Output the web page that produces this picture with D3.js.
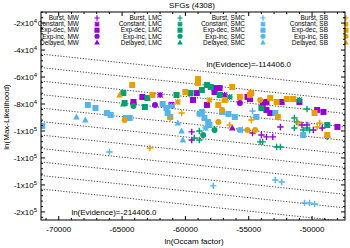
<!DOCTYPE html>
<html><head><meta charset="utf-8">
<script src="https://cdn.jsdelivr.net/npm/d3@7"></script>
<style>body{margin:0;background:#fff}svg{display:block;font-family:"Liberation Sans",Arial,sans-serif}</style>
</head><body><svg id="c" width="350" height="248"></svg>
<script>
// ---- data: [ln(Occam factor), ln(Max-Likelihood)] ----
const galaxies = ["MW", "LMC", "SMC", "SB"];
const sfhs = ["Burst", "Constant", "Exp-dec", "Exp-inc", "Delayed"];
const colors = ["#9400d3", "#009e73", "#56b4e9", "#e69f00"];
const xTicks = [-70000, -65000, -60000, -55000, -50000];
const yTicks = [-20000, -40000, -60000, -80000, -100000, -120000, -140000, -160000];
const yTickLabels = [["-2", "4"], ["-4", "4"], ["-6", "4"], ["-8", "4"], ["-1", "5"], ["-1", "5"], ["-1", "5"], ["-2", "5"]];
const evidenceLevels = [-114406, -124406, -134406, -144406, -154406, -164406, -174406, -184406, -194406, -204406, -214406];

const MW_Burst = [[-64100,-79300],[-59500,-106700],[-59500,-100700],[-54700,-101500],[-54000,-103000],[-53600,-104400],[-53100,-104400],[-52500,-97000],[-50800,-95600],[-50400,-95600],[-49900,-99300],[-49200,-97800]];
const MW_Constant = [[-62000,-73300],[-56900,-73300]];
const MW_ExpDec = [[-57700,-68200],[-57300,-68200],[-57700,-71100],[-59100,-71900],[-63400,-74800],[-64100,-78500],[-55100,-74800],[-54900,-76300],[-53900,-79300],[-53600,-78500],[-52400,-78500],[-51000,-78500],[-53600,-84400],[-53300,-86700],[-49600,-84400],[-49100,-85900],[-48000,-97000],[-59400,-77000],[-58300,-80700],[-53900,-83000],[-61100,-80700]];
const MW_ExpInc = [[-62400,-80700],[-55700,-79300]];
const MW_Delayed = [[-56300,-97800]];

const LMC_Burst = [[-58900,-106700],[-58900,-100000],[-59300,-105200],[-54100,-108100],[-53900,-108100],[-52800,-111900],[-52500,-111900],[-51400,-90400],[-51200,-93300],[-50400,-83700],[-50400,-97800],[-50200,-99300],[-48800,-104400],[-51400,-97800],[-50700,-99300]];
const LMC_Constant = [[-56500,-74800],[-51000,-77000]];
const LMC_ExpDec = [[-64900,-71900],[-58700,-69600],[-58300,-65900],[-58000,-67400],[-57300,-73300],[-59600,-71900],[-60700,-73300],[-63000,-75600],[-64800,-79300],[-63200,-82200],[-54000,-83000],[-48800,-95600]];
const LMC_ExpInc = [[-64100,-81500],[-57700,-99300],[-58600,-103000]];
const LMC_Delayed = [[-64900,-80000]];

const SMC_Burst = [[-66000,-115600],[-57800,-140700],[-52900,-136300],[-52400,-137800],[-50600,-153300],[-50200,-153300],[-49800,-154100],[-55500,-99300],[-54700,-85200]];
const SMC_Constant = [[-61100,-81500],[-58400,-97800]];
const SMC_ExpDec = [[-71300,-96300],[-67700,-80700],[-67100,-83000],[-66200,-86700],[-65900,-88100],[-64700,-90400],[-64400,-90400],[-61800,-80000],[-61500,-83000],[-61400,-86700],[-61200,-89600],[-58700,-85900],[-58500,-90400],[-58200,-93300],[-58100,-95600],[-57100,-85900],[-56600,-87400],[-56100,-89600],[-54400,-89600],[-52900,-86700],[-50700,-103000]];
const SMC_ExpInc = [[-58900,-87400],[-55700,-99300]];
const SMC_Delayed = [[-68600,-89600],[-67900,-91900],[-60600,-94100],[-60300,-100000],[-60200,-106700]];

const SB_Burst = [[-61200,-90400],[-60300,-86700],[-56500,-95600],[-54800,-91900],[-51100,-94100],[-49600,-97000],[-49400,-94100],[-62800,-112600]];
const SB_Constant = [[-60600,-78500],[-58100,-77000]];
const SB_ExpDec = [[-64200,-65900],[-59000,-61500],[-59000,-64400],[-62600,-73300],[-60000,-71100],[-56300,-67400],[-54900,-73300],[-55700,-74800],[-54800,-71900],[-53300,-75600],[-52800,-78500],[-52000,-76300],[-51500,-76300],[-52700,-89600],[-48800,-103000],[-49800,-86700],[-57400,-80700],[-56900,-77000]];
const SB_ExpInc = [[-57100,-84400],[-57400,-93300],[-55100,-99300],[-54500,-99300],[-64800,-91900],[-54100,-77000]];
const SB_Delayed = [[-65200,-73300]];

const seriesData = [
  [MW_Burst, MW_Constant, MW_ExpDec, MW_ExpInc, MW_Delayed],
  [LMC_Burst, LMC_Constant, LMC_ExpDec, LMC_ExpInc, LMC_Delayed],
  [SMC_Burst, SMC_Constant, SMC_ExpDec, SMC_ExpInc, SMC_Delayed],
  [SB_Burst, SB_Constant, SB_ExpDec, SB_ExpInc, SB_Delayed]
];

// ---- layout ----
const L = 41, R = 345, T = 12, B = 220;
const x = d3.scaleLinear().domain([-71400, -47400]).range([L, R]);
const y = d3.scaleLinear().domain([-166000, -11800]).range([B, T]);
const svg = d3.select("#c");

svg.append("text").attr("x", 192).attr("y", 8).attr("text-anchor", "middle")
  .attr("font-size", 8).text("SFGs (4308)");

svg.append("clipPath").attr("id", "pc").append("rect")
  .attr("x", L).attr("y", T).attr("width", R - L).attr("height", B - T);

// evidence lines
const xd = x.domain();
const gl = svg.append("g").attr("clip-path", "url(#pc)");
gl.selectAll("line").data(evidenceLevels).join("line")
  .attr("x1", x(xd[0])).attr("y1", e => y(e - xd[0]))
  .attr("x2", x(xd[1])).attr("y2", e => y(e - xd[1]))
  .attr("stroke", "#444").attr("stroke-width", 1).attr("stroke-dasharray", "1.2,1.6");

// markers
function marker(g, type, color) {
  if (type === 0) {
    g.append("path").attr("d", "M-3.2,0H3.2M0,-3.2V3.2").attr("stroke", color).attr("stroke-width", 1.4).attr("fill", "none");
  } else if (type === 1) {
    g.append("path").attr("d", "M-3,0H3M0,-3V3M-2.6,-2.6L2.6,2.6M-2.6,2.6L2.6,-2.6").attr("stroke", color).attr("stroke-width", 1.3).attr("fill", "none");
  } else if (type === 2) {
    g.append("rect").attr("x", -3).attr("y", -3).attr("width", 6).attr("height", 6).attr("fill", color);
  } else if (type === 3) {
    g.append("circle").attr("r", 3).attr("fill", color);
  } else {
    g.append("path").attr("d", "M0,-3.5L3.3,2.5H-3.3Z").attr("fill", color);
  }
}

const gp = svg.append("g").attr("clip-path", "url(#pc)");
seriesData.forEach((byS, gi) => {
  byS.forEach((pts, si) => {
    pts.forEach(p => {
      const g = gp.append("g").attr("transform", `translate(${x(p[0])},${y(p[1])})`);
      marker(g, si, colors[gi]);
    });
  });
});

// evidence labels
svg.append("text").attr("x", x(-55000)).attr("y", y(-58700) - 8).attr("text-anchor", "middle")
  .attr("font-size", 8).text("ln(Evidence)=" + evidenceLevels[0].toFixed(1));
svg.append("text").attr("x", x(-69000)).attr("y", y(-162500)).attr("text-anchor", "start")
  .attr("font-size", 8).text("ln(Evidence)=" + evidenceLevels[evidenceLevels.length - 1].toFixed(1));

// legend
const lg = svg.append("g");
lg.append("rect").attr("x", L + 1).attr("y", T + 1).attr("width", R - L - 2).attr("height", 35).attr("fill", "#fff");
galaxies.forEach((gname, gi) => {
  sfhs.forEach((sname, si) => {
    const ty = 18 + si * 6.1;
    const tx = 79 + gi * 83;
    lg.append("text").attr("x", tx).attr("y", ty).attr("dy", "0.35em").attr("text-anchor", "end")
      .attr("font-size", 6.5).text(sname + ", " + gname);
    const g = lg.append("g").attr("transform", `translate(${tx + 18},${ty}) scale(0.85)`);
    marker(g, si, colors[gi]);
  });
});

// frame
svg.append("rect").attr("x", L).attr("y", T).attr("width", R - L).attr("height", B - T)
  .attr("fill", "none").attr("stroke", "#000").attr("stroke-width", 1);

// ticks
const ax = svg.append("g").attr("stroke", "#000").attr("stroke-width", 1);
xTicks.forEach(v => {
  ax.append("line").attr("x1", x(v)).attr("x2", x(v)).attr("y1", B).attr("y2", B - 4);
  ax.append("line").attr("x1", x(v)).attr("x2", x(v)).attr("y1", T).attr("y2", T + 4);
});
d3.range(-71000, -47400, 1000).forEach(v => {
  if (v % 5000 === 0) return;
  ax.append("line").attr("x1", x(v)).attr("x2", x(v)).attr("y1", B).attr("y2", B - 2);
  ax.append("line").attr("x1", x(v)).attr("x2", x(v)).attr("y1", T).attr("y2", T + 2);
});
yTicks.forEach(v => {
  ax.append("line").attr("x1", L).attr("x2", L + 4).attr("y1", y(v)).attr("y2", y(v));
  ax.append("line").attr("x1", R).attr("x2", R - 4).attr("y1", y(v)).attr("y2", y(v));
});
d3.range(-12000, -166000, -4000).forEach(v => {
  if (v % 20000 === 0) return;
  ax.append("line").attr("x1", L).attr("x2", L + 2).attr("y1", y(v)).attr("y2", y(v));
  ax.append("line").attr("x1", R).attr("x2", R - 2).attr("y1", y(v)).attr("y2", y(v));
});

xTicks.forEach(v => {
  svg.append("text").attr("x", x(v)).attr("y", B + 12).attr("text-anchor", "middle")
    .attr("font-size", 8).text(v);
});
yTicks.forEach((v, i) => {
  const t = svg.append("text").attr("x", L - 4).attr("y", y(v)).attr("dy", "0.35em")
    .attr("text-anchor", "end").attr("font-size", 8);
  t.append("tspan").text(yTickLabels[i][0] + "x10");
  t.append("tspan").attr("dy", "-0.45em").attr("font-size", 6).text(yTickLabels[i][1]);
});

svg.append("text").attr("x", 194).attr("y", 244).attr("text-anchor", "middle")
  .attr("font-size", 8).text("ln(Occam factor)");
svg.append("text").attr("transform", "translate(9,117) rotate(-90)").attr("text-anchor", "middle")
  .attr("font-size", 8).text("ln(Max-Likelihood)");
</script></body></html>
